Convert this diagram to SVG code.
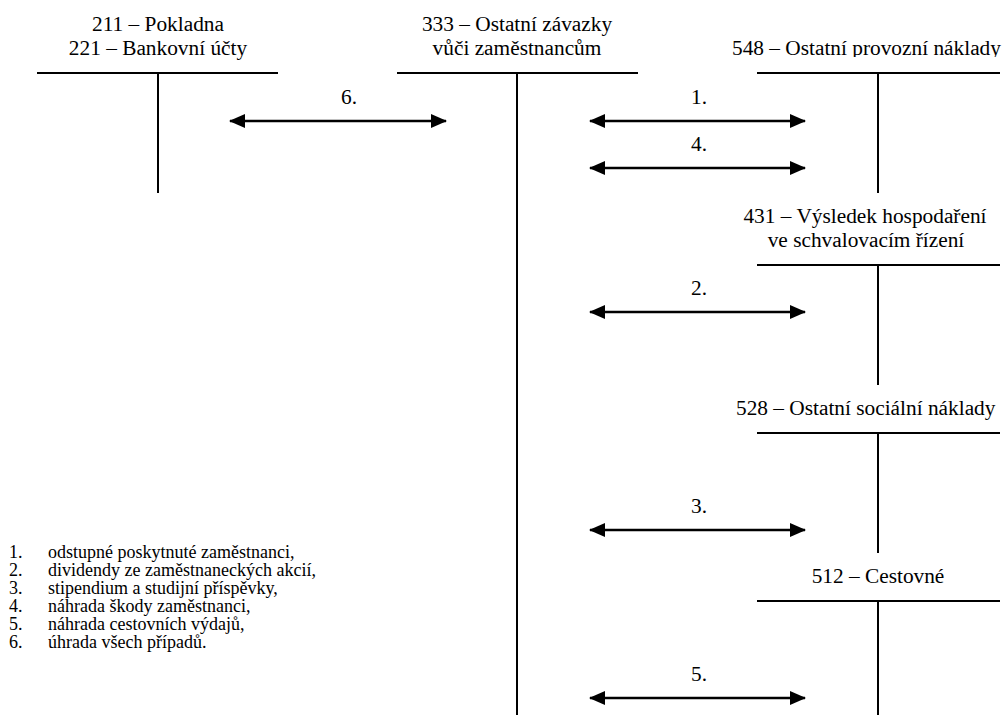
<svg xmlns="http://www.w3.org/2000/svg" width="1002" height="715" viewBox="0 0 1002 715" font-family="'Times New Roman', 'Liberation Serif', Tinos, 'DejaVu Serif', serif">
<style>
text{font-family:'Times New Roman','Liberation Serif',Tinos,'DejaVu Serif',serif;font-size:21.33px;fill:#000}
.t{stroke:#000;stroke-width:2;fill:none}
.a{stroke:#000;stroke-width:2.5;fill:none;marker-start:url(#ah);marker-end:url(#ah)}
.c{text-anchor:middle}
.l{font-size:18px}
</style>
<defs>
<marker id="ah" viewBox="0 0 16 14" refX="15" refY="7" markerWidth="16" markerHeight="14" markerUnits="userSpaceOnUse" orient="auto-start-reverse">
<path d="M0,0 L16,7 L0,14 Z" fill="#000"/>
</marker>
<clipPath id="clipTop"><rect x="0" y="0" width="1002" height="57"/></clipPath>
</defs>
<rect width="1002" height="715" fill="#fff"/>
<g id="acc211">
<text x="158" y="31" class="c">211 – Pokladna</text>
<text x="158" y="55" class="c">221 – Bankovní účty</text>
<path class="t" d="M37,73 H278 M158,73 V193"/>
</g>
<g id="acc333">
<text x="517" y="31" class="c">333 – Ostatní závazky</text>
<text x="517" y="55" class="c">vůči zaměstnancům</text>
<path class="t" d="M397,73 H638 M517,73 V715"/>
</g>
<g id="acc548">
<text x="732" y="55" clip-path="url(#clipTop)">548 – Ostatní provozní náklady</text>
<path class="t" d="M757,73 H1000 M878,73 V193"/>
</g>
<g id="acc431">
<text x="865" y="223" class="c">431 – Výsledek hospodaření</text>
<text x="866" y="247" class="c">ve schvalovacím řízení</text>
<path class="t" d="M757,265 H1000 M878,265 V385"/>
</g>
<g id="acc528">
<text x="736" y="415">528 – Ostatní sociální náklady</text>
<path class="t" d="M757,433 H1000 M878,433 V553"/>
</g>
<g id="acc512">
<text x="878" y="583" class="c">512 – Cestovné</text>
<path class="t" d="M757,601 H1000 M878,601 V715"/>
</g>
<g id="connectors">
<line class="a" x1="230" y1="121" x2="446" y2="121"/>
<text x="349" y="104" class="c">6.</text>
<line class="a" x1="590" y1="121" x2="805" y2="121"/>
<text x="699" y="104" class="c">1.</text>
<line class="a" x1="590" y1="168" x2="805" y2="168"/>
<text x="699" y="151" class="c">4.</text>
<line class="a" x1="590" y1="312" x2="805" y2="312"/>
<text x="699" y="295" class="c">2.</text>
<line class="a" x1="590" y1="530" x2="805" y2="530"/>
<text x="699" y="513" class="c">3.</text>
<line class="a" x1="590" y1="698" x2="805" y2="698"/>
<text x="699" y="681" class="c">5.</text>
</g>
<g id="legend">
<text class="l" x="9" y="558">1.</text><text class="l" x="48" y="558">odstupné poskytnuté zaměstnanci,</text>
<text class="l" x="9" y="576">2.</text><text class="l" x="48" y="576">dividendy ze zaměstnaneckých akcií,</text>
<text class="l" x="9" y="594">3.</text><text class="l" x="48" y="594">stipendium a studijní příspěvky,</text>
<text class="l" x="9" y="612">4.</text><text class="l" x="48" y="612">náhrada škody zaměstnanci,</text>
<text class="l" x="9" y="630">5.</text><text class="l" x="48" y="630">náhrada cestovních výdajů,</text>
<text class="l" x="9" y="648">6.</text><text class="l" x="48" y="648">úhrada všech případů.</text>
</g>
</svg>
